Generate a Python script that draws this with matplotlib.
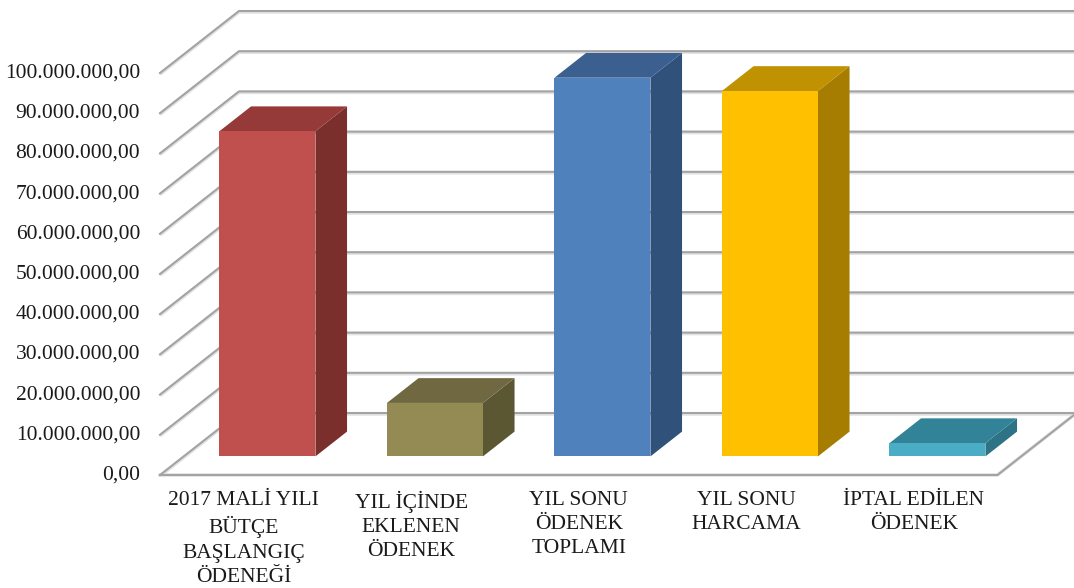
"""
3D-style bar chart of 2017 budget appropriations (Excel look)
"""

import matplotlib.pyplot as plt
from matplotlib.patches import Polygon

categories = [
    '2017 MALİ YILI\nBÜTÇE\nBAŞLANGIÇ\nÖDENEĞİ',
    'YIL İÇİNDE\nEKLENEN\nÖDENEK',
    'YIL SONU\nÖDENEK\nTOPLAMI',
    'YIL SONU\nHARCAMA',
    'İPTAL EDİLEN\nÖDENEK',
]
values = [80_900_000, 13_300_000, 94_200_000, 90_900_000, 3_300_000]
y_ticks = list(range(0, 100_000_001, 10_000_000))

front_colors = ['#c0504d', '#948a54', '#4f81bd', '#ffc000', '#4bacc6']
top_colors = ['#953a38', '#6f6840', '#3b6090', '#c09100', '#338398']
side_colors = ['#7b2f2d', '#5c5733', '#30527a', '#a67d00', '#2d7385']

# oblique projection: depth d in [0, 1] shifts right and up
DX = 79 / 167.5          # in category slots
DY = 15_420_000          # in value units
BAR_W = 0.573
D0, D1 = 0.3, 0.7


def proj(x, v, d):
    return (x + d * DX, v + d * DY)


def fmt(v):
    s = f"{v:,.2f}"
    return s.replace(',', 'X').replace('.', ',').replace('X', '.')


plt.rcParams['font.family'] = ['Liberation Serif', 'DejaVu Serif']

fig = plt.figure(figsize=(10.74, 5.88), dpi=100)
ax = fig.add_axes([0, 0, 1, 1])
ax.set_xlim(-160 / 167.5, 914 / 167.5)
ax.set_ylim(-28_110_000, 118_160_000)
ax.axis('off')

n = len(categories)
grid_color = '#a3a3a3'

# gridlines: left wall diagonal + back wall horizontal
for v in y_ticks:
    xs = [0, DX, n + DX + 0.2]
    ys = [v, v + DY, v + DY]
    ax.plot(xs, [y - 250_000 for y in ys], color='#e2e2e2', lw=2.5, zorder=1,
            solid_capstyle='butt')
    ax.plot(xs, ys, color=grid_color, lw=1.5, zorder=2)
    ax.text(-0.119, v, fmt(v), ha='right', va='center', fontsize=15.5,
            color='#1a1a1a')

# floor outline
ax.plot([0, n, n + DX], [0, 0, DY], color='#e2e2e2', lw=2.5, zorder=1)
ax.plot([0, n, n + DX], [0, 0, DY], color=grid_color, lw=1.5, zorder=2)

for i, v in enumerate(values):
    x0 = i + (1 - BAR_W) / 2
    x1 = x0 + BAR_W
    front = [proj(x0, 0, D0), proj(x1, 0, D0), proj(x1, v, D0), proj(x0, v, D0)]
    top = [proj(x0, v, D0), proj(x1, v, D0), proj(x1, v, D1), proj(x0, v, D1)]
    side = [proj(x1, 0, D0), proj(x1, 0, D1), proj(x1, v, D1), proj(x1, v, D0)]
    ax.add_patch(Polygon(side, closed=True, fc=side_colors[i], ec='none', zorder=3))
    ax.add_patch(Polygon(top, closed=True, fc=top_colors[i], ec='none', zorder=3))
    ax.add_patch(Polygon(front, closed=True, fc=front_colors[i], ec='none', zorder=4))

    ax.text(i + 0.5, -3_900_000, categories[i], ha='center', va='top',
            fontsize=15.5, linespacing=1.38, color='#1a1a1a')

fig.savefig('out.png', dpi=100)
